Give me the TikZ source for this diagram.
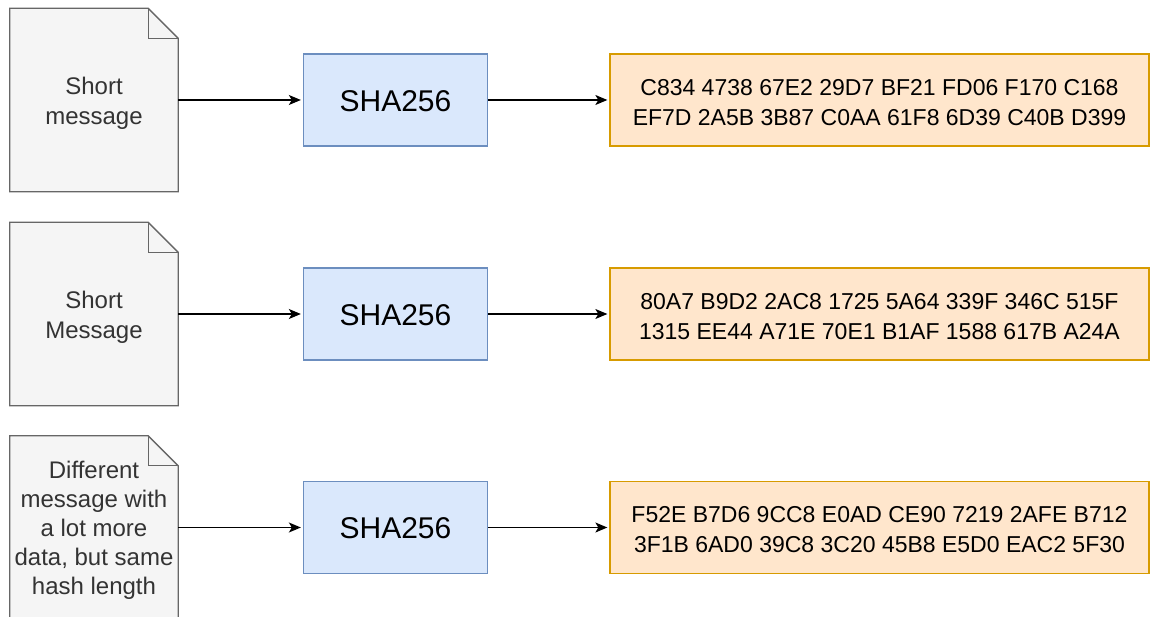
\documentclass[tikz,border=0pt]{standalone}
\usepackage{fontspec}
\setmainfont{Liberation Sans}
\usetikzlibrary{arrows.meta,backgrounds}
\definecolor{docfill}{HTML}{F5F5F5}
\definecolor{docline}{HTML}{666666}
\definecolor{doctext}{HTML}{333333}
\definecolor{hashfill}{HTML}{DAE8FC}
\definecolor{hashline}{HTML}{6C8EBF}
\definecolor{digestfill}{HTML}{FFE6CC}
\definecolor{digestline}{HTML}{D79B00}
\tikzset{
  docnode/.style={minimum width=168pt, minimum height=183pt, inner sep=0pt},
  doclabel/.style={inner sep=0pt, text=doctext, align=center,
    font=\fontsize{24}{30}\selectfont},
  docshape/.style={fill=docfill, draw=docline, line width=1.3pt, line join=miter},
  hashbox/.style={rectangle, fill=hashfill, draw=hashline, line width=1.3pt,
    minimum width=184pt, minimum height=92pt, inner sep=0pt},
  hashlabel/.style={inner sep=0pt, font=\fontsize{30}{36}\selectfont},
  digestbox/.style={rectangle, fill=digestfill, draw=digestline, line width=1.3pt,
    minimum width=539pt, minimum height=92pt, inner sep=0pt},
  digestlabel/.style={inner sep=0pt, align=center, font=\fontsize{23}{30}\selectfont},
  flow/.style={line width=1.3pt, -{Stealth[length=12pt,width=10pt,inset=3pt]},
    shorten >=2pt}
}
% draws the folded-corner page outline around a document node
\newcommand{\pageoutline}[1]{%
  \begin{pgfonlayer}{background}
    \draw[docshape] (#1.north west) -- ([xshift=-30pt]#1.north east)
      -- ([yshift=-30pt]#1.north east) -- (#1.south east)
      -- (#1.south west) -- cycle;
    \draw[docshape, fill=none] ([xshift=-30pt]#1.north east)
      -- ([xshift=-30pt,yshift=-30pt]#1.north east)
      -- ([yshift=-30pt]#1.north east);
  \end{pgfonlayer}}
\begin{document}
\begin{tikzpicture}[x=1pt,y=-1pt]
\useasboundingbox (0,0) rectangle (1150,617);
\begin{pgfonlayer}{background}
  \fill[white] (0,0) rectangle (1150,617);
\end{pgfonlayer}

% first row
\node[docnode] (doc1) at (94,100) {};
\pageoutline{doc1}
\node[doclabel] (doc1t) at ([yshift=-3pt]doc1.center) {Short\\message};
\node[hashbox] (sha1) at (395.5,100) {};
\node[hashlabel] (sha1t) at ([yshift=-1pt]sha1.center) {SHA256};
\node[digestbox] (out1) at (879.5,100) {};
\node[digestlabel] (out1t) at ([yshift=-2.5pt]out1.center)
  {C834 4738 67E2 29D7 BF21 FD06 F170 C168\\EF7D 2A5B 3B87 C0AA 61F8 6D39 C40B D399};
\draw[flow] (doc1.east) -- (sha1.west);
\draw[flow] (sha1.east) -- (out1.west);

% second row
\node[docnode] (doc2) at (94,314) {};
\pageoutline{doc2}
\node[doclabel] (doc2t) at ([yshift=-3pt]doc2.center) {Short\\Message};
\node[hashbox] (sha2) at (395.5,314) {};
\node[hashlabel] (sha2t) at ([yshift=-1pt]sha2.center) {SHA256};
\node[digestbox] (out2) at (879.5,314) {};
\node[digestlabel] (out2t) at ([yshift=-2.5pt]out2.center)
  {80A7 B9D2 2AC8 1725 5A64 339F 346C 515F\\1315 EE44 A71E 70E1 B1AF 1588 617B A24A};
\draw[flow] (doc2.east) -- (sha2.west);
\draw[flow] (sha2.east) -- (out2.west);

% third row
\node[docnode] (doc3) at (94,527.5) {};
\pageoutline{doc3}
\node[doclabel, font=\fontsize{24}{29}\selectfont] (doc3t) at ([yshift=-3pt]doc3.center)
  {Different\\message with\\a lot more\\data, but same\\hash length};
\node[hashbox] (sha3) at (395.5,527.5) {};
\node[hashlabel] (sha3t) at ([yshift=-1pt]sha3.center) {SHA256};
\node[digestbox] (out3) at (879.5,527.5) {};
\node[digestlabel] (out3t) at ([yshift=-2.5pt]out3.center)
  {F52E B7D6 9CC8 E0AD CE90 7219 2AFE B712\\3F1B 6AD0 39C8 3C20 45B8 E5D0 EAC2 5F30};
\draw[flow] (doc3.east) -- (sha3.west);
\draw[flow] (sha3.east) -- (out3.west);
\end{tikzpicture}
\end{document}
